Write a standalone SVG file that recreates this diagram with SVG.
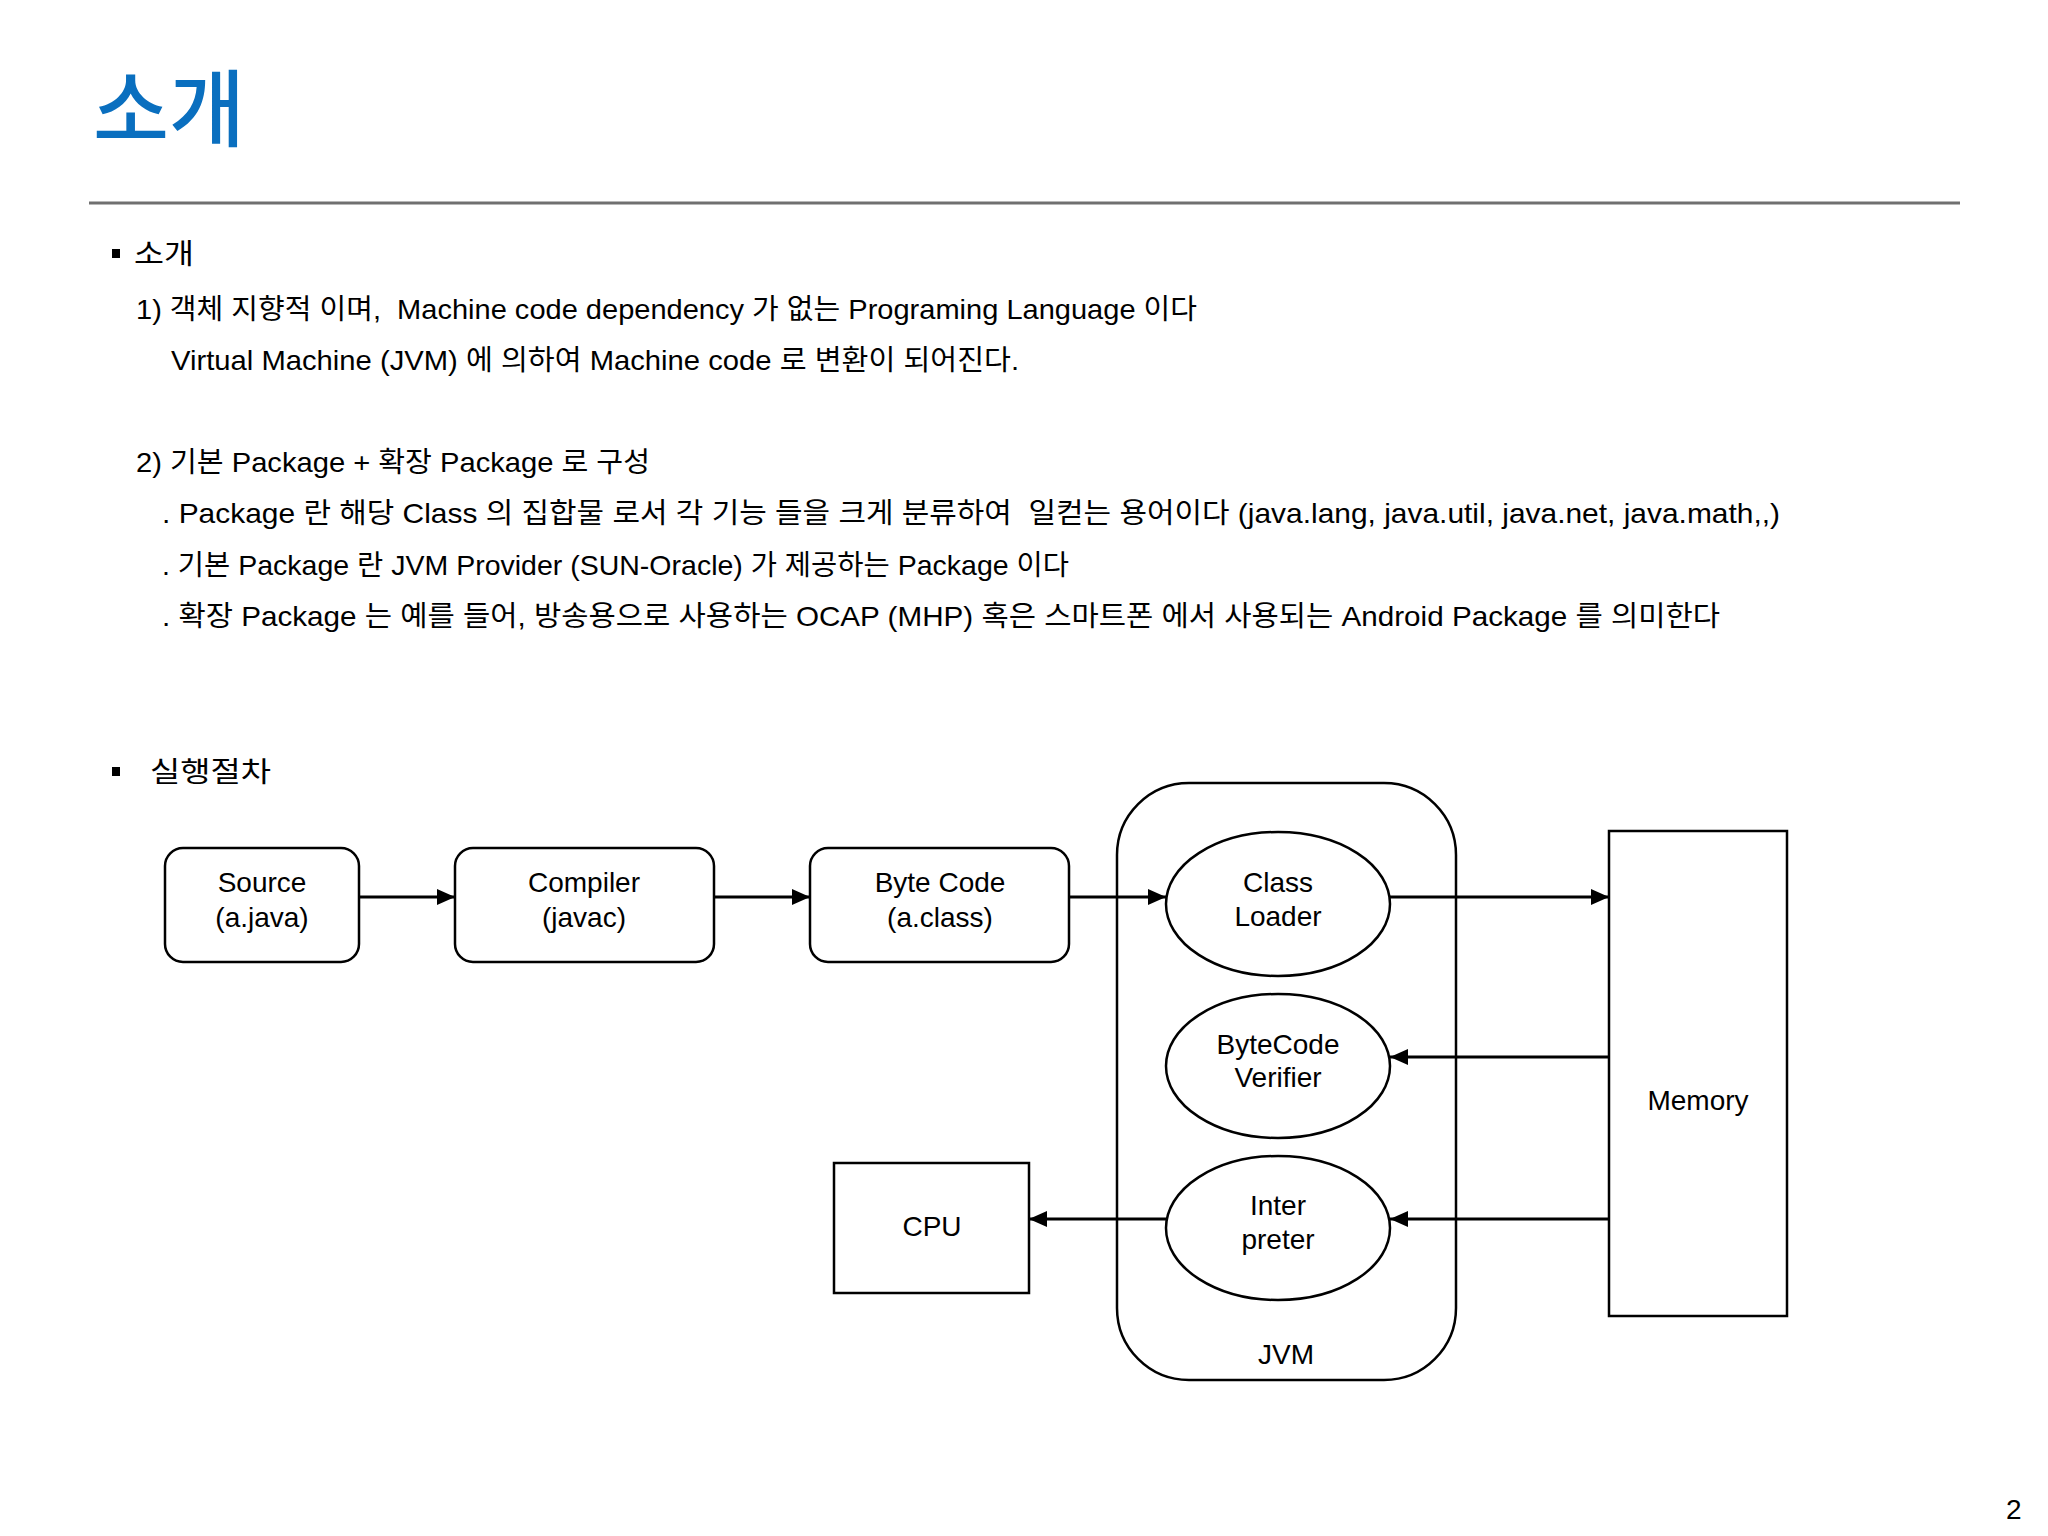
<svg xmlns="http://www.w3.org/2000/svg" width="2048" height="1536" viewBox="0 0 2048 1536">
<style>
text{font-family:"Liberation Sans","Noto Sans CJK KR",sans-serif;fill:#000}
.title{font-family:"Noto Sans CJK KR",sans-serif;font-size:84px;fill:#0a6fbf;font-weight:500}
.body{font-size:28px}
.lbl{font-size:28px;text-anchor:middle}
.box{fill:#fff;stroke:#000;stroke-width:2.5}
.conn{stroke:#000;stroke-width:3;fill:none;marker-end:url(#ah)}
</style>
<defs>
<marker id="ah" markerWidth="18" markerHeight="16" refX="18" refY="8" orient="auto" markerUnits="userSpaceOnUse"><path d="M0,0 L18,8 L0,16 z" fill="#000"/></marker>
</defs>
<rect width="2048" height="1536" fill="#fff"/>
<text class="title" x="93" y="140" textLength="152" lengthAdjust="spacingAndGlyphs">소개</text>
<line x1="89" y1="203" x2="1960" y2="203" stroke="#707070" stroke-width="3"/>
<g id="text-body">
<rect x="112" y="249" width="8" height="9" fill="#000"/>
<text class="body" x="134" y="264" font-size="30" textLength="60" lengthAdjust="spacingAndGlyphs">소개</text>
<text class="body" x="136" y="319" xml:space="preserve" textLength="1061" lengthAdjust="spacingAndGlyphs">1) 객체 지향적 이며,  Machine code dependency 가 없는 Programing Language 이다</text>
<text class="body" x="171" y="370" textLength="848" lengthAdjust="spacingAndGlyphs">Virtual Machine (JVM) 에 의하여 Machine code 로 변환이 되어진다.</text>
<text class="body" x="136" y="472" textLength="514" lengthAdjust="spacingAndGlyphs">2) 기본 Package + 확장 Package 로 구성</text>
<text class="body" x="162" y="523" xml:space="preserve" textLength="1618" lengthAdjust="spacingAndGlyphs">. Package 란 해당 Class 의 집합물 로서 각 기능 들을 크게 분류하여  일컫는 용어이다 (java.lang, java.util, java.net, java.math,,)</text>
<text class="body" x="162" y="575" textLength="907" lengthAdjust="spacingAndGlyphs">. 기본 Package 란 JVM Provider (SUN-Oracle) 가 제공하는 Package 이다</text>
<text class="body" x="162" y="626" textLength="1558" lengthAdjust="spacingAndGlyphs">. 확장 Package 는 예를 들어, 방송용으로 사용하는 OCAP (MHP) 혹은 스마트폰 에서 사용되는 Android Package 를 의미한다</text>
<rect x="112" y="767" width="8" height="9" fill="#000"/>
<text class="body" x="150" y="782" font-size="31" textLength="121" lengthAdjust="spacingAndGlyphs">실행절차</text>
</g>
<g id="jvm">
<rect class="box" x="1117" y="783" width="339" height="597" rx="72" ry="72"/>
<text class="lbl" x="1286" y="1364">JVM</text>
</g>
<g id="source">
<rect class="box" x="165" y="848" width="194" height="114" rx="18" ry="18"/>
<text class="lbl" x="262" y="892">Source</text>
<text class="lbl" x="262" y="927">(a.java)</text>
</g>
<g id="compiler">
<rect class="box" x="455" y="848" width="259" height="114" rx="18" ry="18"/>
<text class="lbl" x="584" y="892">Compiler</text>
<text class="lbl" x="584" y="927">(javac)</text>
</g>
<g id="bytecode">
<rect class="box" x="810" y="848" width="259" height="114" rx="18" ry="18"/>
<text class="lbl" x="940" y="892">Byte Code</text>
<text class="lbl" x="940" y="927">(a.class)</text>
</g>
<g id="classloader">
<ellipse class="box" cx="1278" cy="904" rx="112" ry="72"/>
<text class="lbl" x="1278" y="892">Class</text>
<text class="lbl" x="1278" y="926">Loader</text>
</g>
<g id="verifier">
<ellipse class="box" cx="1278" cy="1066" rx="112" ry="72"/>
<text class="lbl" x="1278" y="1054">ByteCode</text>
<text class="lbl" x="1278" y="1087">Verifier</text>
</g>
<g id="interpreter">
<ellipse class="box" cx="1278" cy="1228" rx="112" ry="72"/>
<text class="lbl" x="1278" y="1215">Inter</text>
<text class="lbl" x="1278" y="1249">preter</text>
</g>
<g id="memory">
<rect class="box" x="1609" y="831" width="178" height="485" stroke-width="2"/>
<text class="lbl" x="1698" y="1110">Memory</text>
</g>
<g id="cpu">
<rect class="box" x="834" y="1163" width="195" height="130" stroke-width="2"/>
<text class="lbl" x="932" y="1236">CPU</text>
</g>
<g id="connectors">
<path class="conn" d="M359,897 L455,897"/>
<path class="conn" d="M714,897 L810,897"/>
<path class="conn" d="M1069,897 L1166,897"/>
<path class="conn" d="M1390,897 L1609,897"/>
<path class="conn" d="M1609,1057 L1390,1057"/>
<path class="conn" d="M1609,1219 L1390,1219"/>
<path class="conn" d="M1166,1219 L1029,1219"/>
</g>
<text x="2006" y="1519" font-size="28">2</text>
</svg>
